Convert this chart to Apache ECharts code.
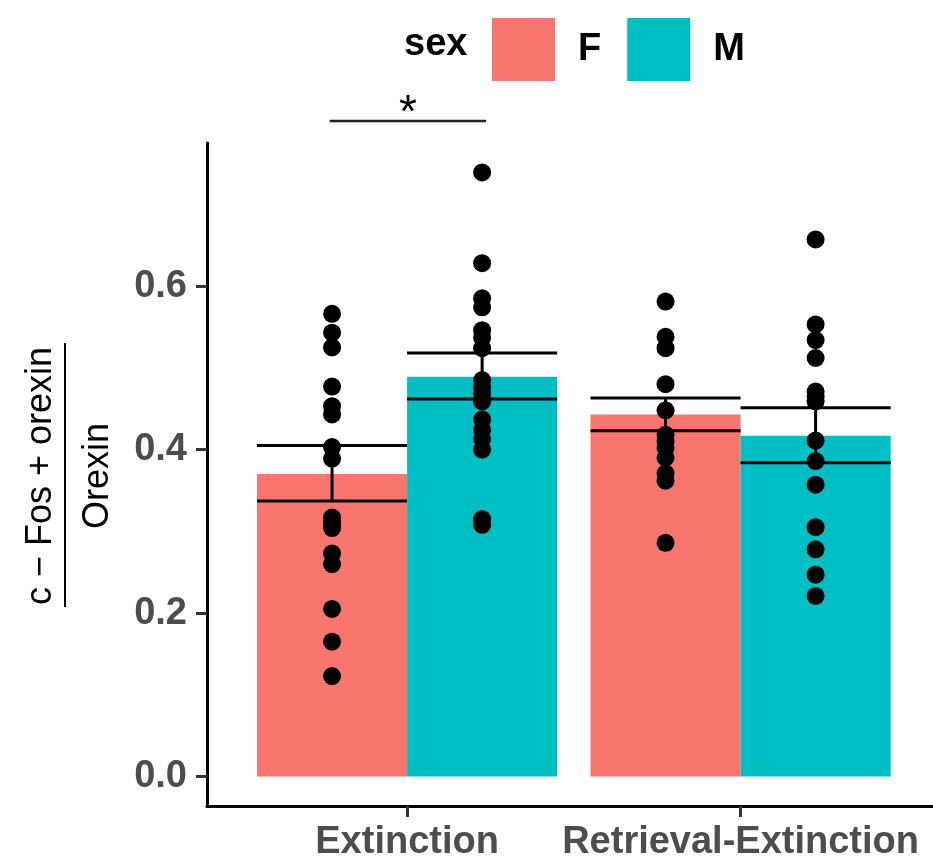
<!DOCTYPE html>
<html>
<head>
<meta charset="utf-8">
<script src="https://cdn.jsdelivr.net/npm/echarts@6/dist/echarts.min.js"></script>
<style>
html,body{margin:0;padding:0;background:#fff;}
#chart{width:933px;height:862px;}
</style>
</head>
<body>
<div id="chart"></div>
<script>
// ---- data ----
const categories = ['Extinction', 'Retrieval-Extinction'];
const sexes = ['F', 'M'];
const meanF = [0.370, 0.443];
const meanM = [0.489, 0.417];
const seLowF = [0.337, 0.423];
const seHighF = [0.405, 0.463];
const seLowM = [0.462, 0.384];
const seHighM = [0.518, 0.451];
const pointsExtF = [0.566, 0.543, 0.525, 0.477, 0.453, 0.443, 0.403, 0.389, 0.317, 0.310, 0.304, 0.273, 0.260, 0.205, 0.165, 0.123];
const pointsExtM = [0.739, 0.628, 0.585, 0.574, 0.546, 0.537, 0.524, 0.485, 0.476, 0.468, 0.459, 0.437, 0.424, 0.413, 0.400, 0.315, 0.308];
const pointsRetF = [0.581, 0.538, 0.524, 0.480, 0.448, 0.418, 0.410, 0.402, 0.390, 0.371, 0.362, 0.286];
const pointsRetM = [0.657, 0.553, 0.534, 0.512, 0.471, 0.465, 0.459, 0.411, 0.386, 0.357, 0.305, 0.278, 0.247, 0.221];
const yTicks = [0, 0.2, 0.4, 0.6];
const xTicks = [0, 1];
const sigPair = [[-0.232, 0.237, 0.802]];
const sigLabel = '*';

// ---- layout constants ----
const dodge = 0.225;
const half = 0.225;
const colF = '#F8766D';
const colM = '#00BFC4';

function barData(means, off) { return means.map((v, i) => [i + off, v]); }
function errData(lo, hi, off) { return lo.map((v, i) => [i + off, v, hi[i]]); }
function ptData(arr, x) { return arr.map(v => [x, v]); }

function renderBar(params, api) {
  const x = api.value(0), y = api.value(1);
  const p1 = api.coord([x - half, y]);
  const p2 = api.coord([x + half, 0]);
  return {
    type: 'rect',
    shape: { x: p1[0], y: p1[1], width: p2[0] - p1[0], height: p2[1] - p1[1] },
    style: { fill: api.visual('color') }
  };
}
function renderErr(params, api) {
  const x = api.value(0), lo = api.value(1), hi = api.value(2);
  const a = api.coord([x - half, hi]), b = api.coord([x + half, hi]);
  const c = api.coord([x - half, lo]), d = api.coord([x + half, lo]);
  const m1 = api.coord([x, hi]), m2 = api.coord([x, lo]);
  const st = { stroke: '#000', lineWidth: 3 };
  return {
    type: 'group',
    children: [
      { type: 'line', shape: { x1: a[0], y1: a[1], x2: b[0], y2: b[1] }, style: st },
      { type: 'line', shape: { x1: c[0], y1: c[1], x2: d[0], y2: d[1] }, style: st },
      { type: 'line', shape: { x1: m1[0], y1: m1[1], x2: m2[0], y2: m2[1] }, style: st }
    ]
  };
}
function renderSig(params, api) {
  const x1 = api.value(0), x2 = api.value(1), y = api.value(2);
  const p1 = api.coord([x1, y]), p2 = api.coord([x2, y]);
  return {
    type: 'group',
    children: [
      { type: 'line', shape: { x1: p1[0], y1: p1[1], x2: p2[0], y2: p2[1] }, style: { stroke: '#222', lineWidth: 2.5 } },
      { type: 'text', x: (p1[0] + p2[0]) / 2, y: p1[1] - 30,
        style: { text: sigLabel, fill: '#000', font: '46px "Liberation Sans", Arial, sans-serif', align: 'center', verticalAlign: 'top' } }
    ]
  };
}

const chart = echarts.init(document.getElementById('chart'), null, { renderer: 'canvas' });
const labelFont = { fontFamily: '"Liberation Sans", Arial, sans-serif', fontWeight: 'bold', fontSize: 38, color: '#4D4D4D' };

chart.setOption({
  animation: false,
  backgroundColor: '#fff',
  grid: { left: 207, right: 0, top: 143, bottom: 53, containLabel: false },
  legend: {
    data: sexes,
    left: 487, top: 13,
    icon: 'rect',
    itemWidth: 63, itemHeight: 63,
    itemGap: 26,
    textStyle: { fontFamily: '"Liberation Sans", Arial, sans-serif', fontWeight: 'bold', fontSize: 38, color: '#000', padding: [0, 0, 0, 18] },
    selectedMode: false
  },
  xAxis: {
    type: 'value', min: -0.6, max: 1.577,
    splitLine: { show: false },
    axisLine: { show: true, onZero: false, lineStyle: { color: '#000', width: 3 } },
    axisTick: { show: true, length: 11, lineStyle: { color: '#333', width: 3 }, customValues: xTicks },
    axisLabel: Object.assign({ margin: 18, customValues: xTicks, formatter: v => categories[Math.round(v)] || '' }, labelFont)
  },
  yAxis: {
    type: 'value', min: -0.036, max: 0.775,
    splitLine: { show: false },
    axisLine: { show: true, onZero: false, lineStyle: { color: '#000', width: 3 } },
    axisTick: { show: true, length: 11, lineStyle: { color: '#333', width: 3 }, customValues: yTicks },
    axisLabel: Object.assign({ margin: 20, customValues: yTicks, formatter: v => v.toFixed(1) }, labelFont)
  },
  graphic: [
    { type: 'text', left: 404, top: 26, style: { text: 'sex', fill: '#000', font: 'bold 38px "Liberation Sans", Arial, sans-serif' } },
    { type: 'text', x: 41, y: 476, rotation: Math.PI / 2,
      style: { text: 'c \u2212 Fos + orexin', fill: '#000', font: '36px "Liberation Sans", Arial, sans-serif', align: 'center', verticalAlign: 'middle' } },
    { type: 'line', shape: { x1: 65, y1: 343, x2: 65, y2: 607 }, style: { stroke: '#000', lineWidth: 2 } },
    { type: 'text', x: 98, y: 476, rotation: Math.PI / 2,
      style: { text: 'Orexin', fill: '#000', font: '36px "Liberation Sans", Arial, sans-serif', align: 'center', verticalAlign: 'middle' } }
  ],
  series: [
    { name: 'F', type: 'custom', renderItem: renderBar, itemStyle: { color: colF }, encode: { x: 0, y: 1 }, data: barData(meanF, -dodge), z: 1 },
    { name: 'M', type: 'custom', renderItem: renderBar, itemStyle: { color: colM }, encode: { x: 0, y: 1 }, data: barData(meanM, dodge), z: 1 },
    { name: 'ptsExtF', type: 'scatter', symbolSize: 18, itemStyle: { color: '#000', opacity: 1 }, data: ptData(pointsExtF, 0 - dodge), z: 3 },
    { name: 'ptsExtM', type: 'scatter', symbolSize: 18, itemStyle: { color: '#000', opacity: 1 }, data: ptData(pointsExtM, 0 + dodge), z: 3 },
    { name: 'ptsRetF', type: 'scatter', symbolSize: 18, itemStyle: { color: '#000', opacity: 1 }, data: ptData(pointsRetF, 1 - dodge), z: 3 },
    { name: 'ptsRetM', type: 'scatter', symbolSize: 18, itemStyle: { color: '#000', opacity: 1 }, data: ptData(pointsRetM, 1 + dodge), z: 3 },
    { name: 'errF', type: 'custom', renderItem: renderErr, encode: { x: 0, y: [1, 2] }, data: errData(seLowF, seHighF, -dodge), z: 4 },
    { name: 'errM', type: 'custom', renderItem: renderErr, encode: { x: 0, y: [1, 2] }, data: errData(seLowM, seHighM, dodge), z: 4 },
    { name: 'sig', type: 'custom', renderItem: renderSig, clip: false, encode: { x: [0, 1], y: 2 }, data: sigPair, z: 5 }
  ]
});
</script>
</body>
</html>
